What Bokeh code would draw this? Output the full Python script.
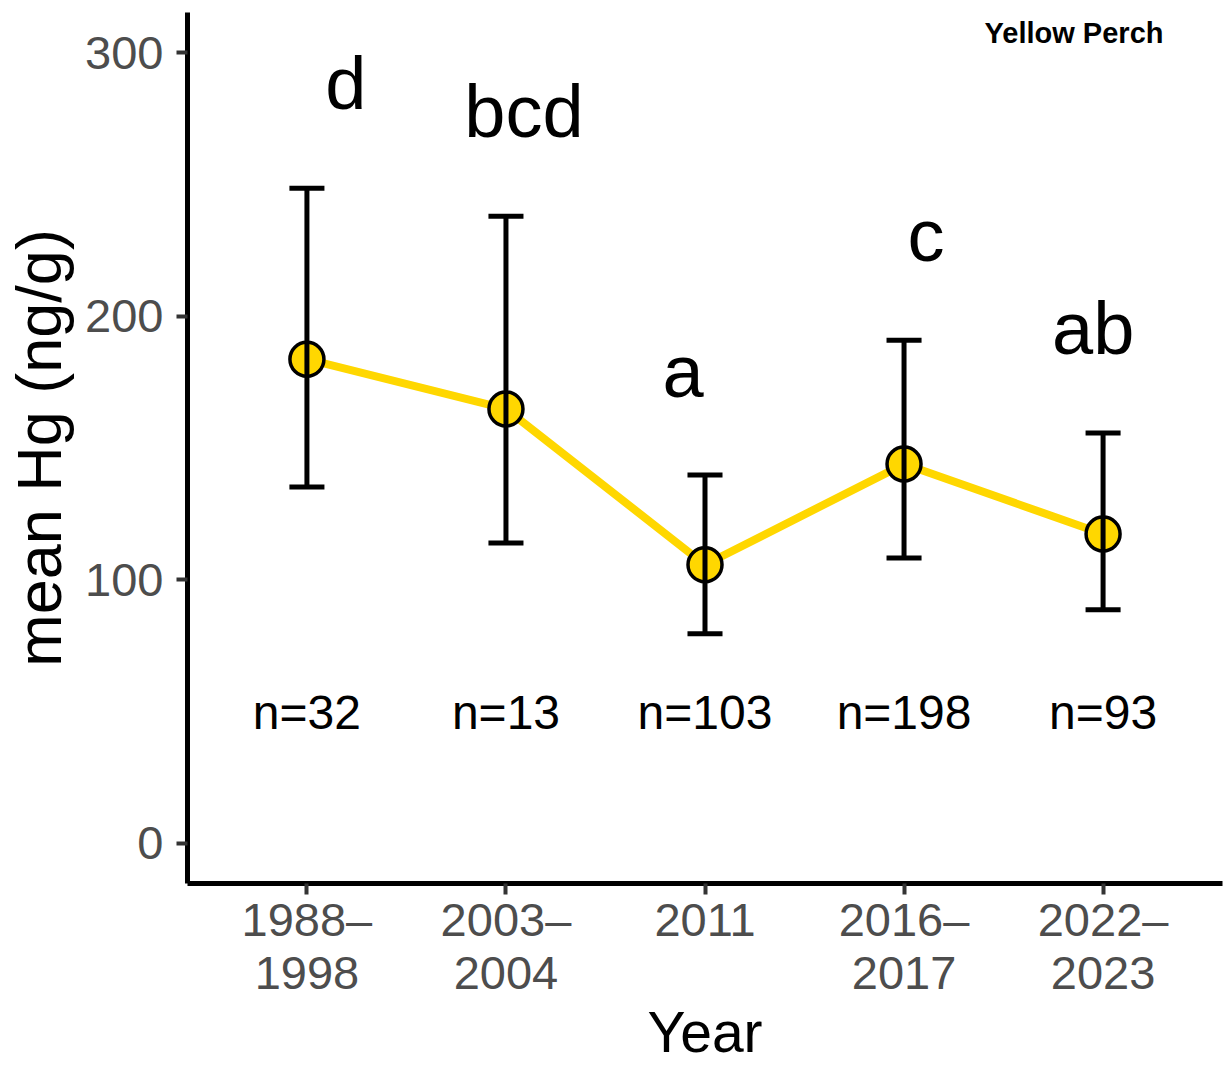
from bokeh.plotting import figure
from bokeh.models import Range1d, FixedTicker, ColumnDataSource, Label
from bokeh.core.properties import value
from bokeh.embed import file_html
from bokeh.resources import INLINE

# ---- data ----
periods = ["1988–\n1998", "2003–\n2004", "2011", "2016–\n2017", "2022–\n2023"]
mean_hg = [183.7, 164.8, 105.7, 143.9, 117.4]
upper = [248.5, 237.9, 139.8, 190.9, 155.7]
lower = [135.2, 114.0, 79.5, 108.3, 88.6]
n_labels = ["n=32", "n=13", "n=103", "n=198", "n=93"]
n_y = [49.5, 49.5, 49.5, 49.5, 49.5]
groups = ["d", "bcd", "a", "c", "ab"]
group_x = [1.196, 2.09, 2.89, 4.11, 4.95]
group_y = [288.2, 277.6, 179.0, 230.6, 195.3]
y_ticks = [0, 100, 200, 300]
species = "Yellow Perch"
species_pos = (4.854, 307.5)

FONT = "Liberation Sans"
x = list(range(1, len(periods) + 1))
cap_half = 0.088

p = figure(width=1224, height=1066, output_backend="svg", toolbar_location=None,
           x_range=Range1d(0.4, 5.6), y_range=Range1d(-15.2, 315.2),
           min_border_left=187, min_border_right=2, min_border_top=12,
           min_border_bottom=183)
p.outline_line_color = None
p.xgrid.visible = False
p.ygrid.visible = False
p.background_fill_color = "white"
p.border_fill_color = "white"

# line
p.line(x, mean_hg, line_color="#FFD700", line_width=8)
# points
p.scatter(x, mean_hg, size=34, fill_color="#FFD700", line_color="black", line_width=3.5)
# error bars
src = ColumnDataSource(dict(x=x, lo=lower, hi=upper,
                            xl=[v - cap_half for v in x], xr=[v + cap_half for v in x]))
p.segment(x0="x", y0="lo", x1="x", y1="hi", source=src, line_color="black", line_width=5)
p.segment(x0="xl", y0="hi", x1="xr", y1="hi", source=src, line_color="black", line_width=5)
p.segment(x0="xl", y0="lo", x1="xr", y1="lo", source=src, line_color="black", line_width=5)

# group letters
p.text(x=group_x, y=group_y, text=groups, text_font=value(FONT), text_font_size="74px",
       text_align="center", text_baseline="alphabetic", text_color="black")
# n labels
p.text(x=x, y=n_y, text=n_labels, text_font=value(FONT), text_font_size="48px",
       text_align="center", text_baseline="middle", text_color="black")

# species label
p.add_layout(Label(x=species_pos[0], y=species_pos[1], text=species, text_font=FONT,
                   text_font_size="29px", text_font_style="bold", text_align="center",
                   text_baseline="alphabetic", text_color="black"))

# axes
for ax in (p.xaxis[0], p.yaxis[0]):
    ax.axis_line_color = "black"
    ax.axis_line_width = 5
    ax.major_tick_line_color = "#333333"
    ax.major_tick_line_width = 4
    ax.major_tick_out = 11
    ax.major_tick_in = 0
    ax.minor_tick_line_color = None
    ax.major_label_text_color = "#4D4D4D"
    ax.major_label_text_font = FONT
    ax.major_label_text_font_size = "47px"
    ax.axis_label_text_font = FONT
    ax.axis_label_text_font_style = "normal"
    ax.axis_label_text_color = "black"

p.xaxis.ticker = FixedTicker(ticks=x)
p.xaxis.major_label_overrides = {i: lab for i, lab in zip(x, periods)}
p.xaxis.major_label_text_line_height = 1.0
p.xaxis.major_label_standoff = -2
p.xaxis.axis_label = "Year"
p.xaxis.axis_label_text_font_size = "57px"
p.xaxis.axis_label_standoff = -2

p.yaxis.ticker = FixedTicker(ticks=y_ticks)
p.yaxis.axis_label = "mean Hg (ng/g)"
p.yaxis.axis_label_text_font_size = "63px"
p.yaxis.major_label_standoff = 13
p.yaxis.axis_label_standoff = 8

open("out.html", "w").write(file_html(p, INLINE))
